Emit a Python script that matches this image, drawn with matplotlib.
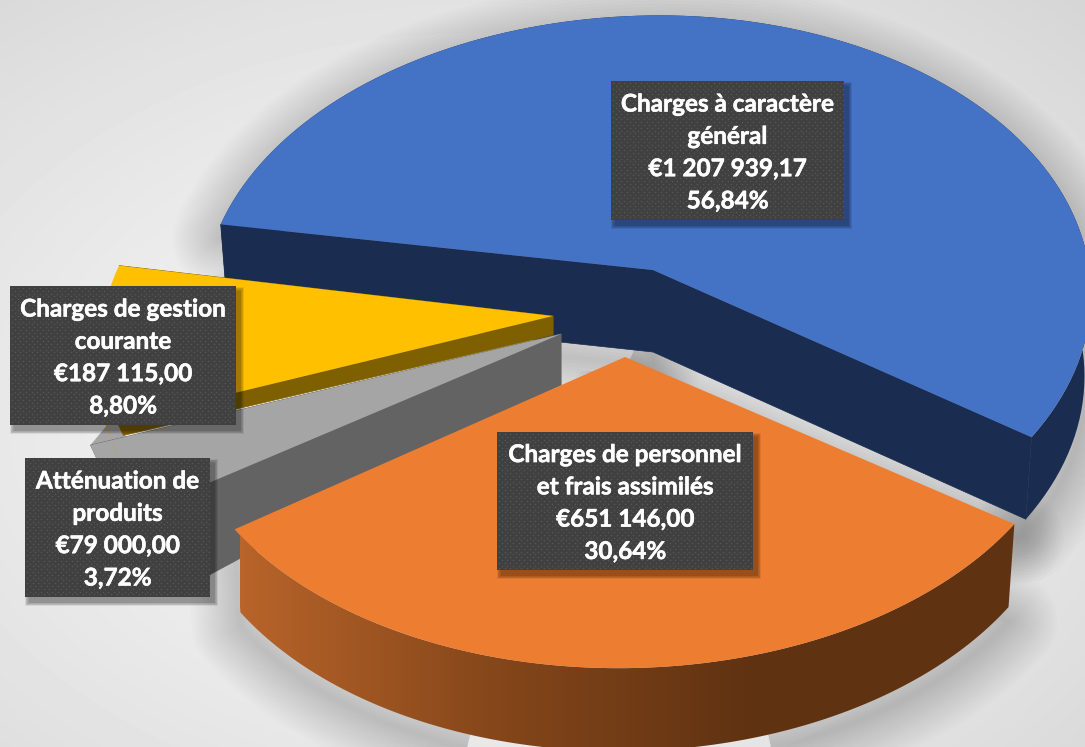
import numpy as np
import matplotlib
matplotlib.use("Agg")
import matplotlib.pyplot as plt
import matplotlib.patheffects as pe
from matplotlib.colors import LinearSegmentedColormap
from matplotlib.patches import Polygon, Rectangle

# valeurs du graphique
categories = ["Charges à caractère\ngénéral", "Charges de personnel\net frais assimilés",
              "Atténuation de\nproduits", "Charges de gestion\ncourante"]
valeurs = [1207939.17, 651146.00, 79000.00, 187115.00]
valeurs_txt = ["€1 207 939,17", "€651 146,00", "€79 000,00", "€187 115,00"]
pourcent_txt = ["56,84%", "30,64%", "3,72%", "8,80%"]

# style de chaque part
couleurs = ["#4472c4", "#ed7d31", "#a5a5a5", "#ffc000"]
cote = ["#1a2d50", "#5f3212", "#636363", "#7f6000"]
bord = ["#1a2d50", "#b8642a", "#a5a5a5", "#d4a400"]
tips = [(653, 270), (625, 357), (561, 334), (553, 316)]
rayons = [1.0, 1.0, 1.08, 1.005]
tilts = [0.9, 0.9, 0.0, 0.3]
serre = [0.972, 1.0, 1.0, 1.0]  # squeeze on the right of the tip
retrait = [0.985, 0.985, 0.90, 0.985]
prof_tip = [82, 83, 51, 19]
prof_rim = [82, 83, 78, 34]
prof_coupe = [82, 83, 78, 14]
boites = [(611, 81, 844, 220), (497, 432, 753, 570), (25, 458, 210, 597), (10, 286, 236, 425)]

A, B, K = 448, 280, 0.10
START = 169.0

fig = plt.figure(figsize=(10.85, 7.47), dpi=100)
ax = fig.add_axes([0, 0, 1, 1])
ax.set_xlim(0, 1085)
ax.set_ylim(747, 0)
ax.axis("off")

# fond degrade
yy, xx = np.mgrid[0:747, 0:1085]
r = np.hypot((xx - 480) / 1085, (yy - 420) / 747)
fond = np.clip(0.93 - 0.22 * np.clip(r - 0.3, 0, None) ** 1.2, 0, 1)
ax.imshow(fond, cmap="gray", vmin=0, vmax=1, extent=(0, 1085, 747, 0), aspect="auto", zorder=0)


def point(i, ang, mult=1.0):
    rad = rayons[i] * mult
    u = rad * np.cos(np.radians(ang))
    v = rad * np.sin(np.radians(ang))
    s = 1 / (1 + K * v)
    dx, dy = A * u * s, -B * v * s
    if dx > 0:
        dx *= serre[i]
    t = np.radians(tilts[i])
    return tips[i][0] + dx * np.cos(t) + dy * np.sin(t), tips[i][1] - dx * np.sin(t) + dy * np.cos(t)


def bas(i, pts, depth):
    res = pts.copy()
    res[:, 0] = tips[i][0] + (pts[:, 0] - tips[i][0]) * retrait[i]
    res[:, 1] = pts[:, 1] + depth
    return res


def ombre(poly, z):
    poly = poly + np.array([0, 14])
    for lw in np.linspace(70, 4, 15):
        ax.add_patch(Polygon(poly, closed=True, fc="none", ec="black", lw=lw, alpha=0.013,
                             joinstyle="round", zorder=z))


angles = 360 * np.array(valeurs) / sum(valeurs)
bornes = START - np.concatenate([[0], np.cumsum(angles)])

# ordre de dessin : bleu, gris, jaune, orange
ordre = [0, 2, 3, 1]
for n, i in enumerate(ordre):
    a1, a2 = bornes[i], bornes[i + 1]
    tip = tips[i]
    z = 2 + n * 2
    top = np.array([point(i, a) for a in np.linspace(a1, a2, 120)])
    low = bas(i, top, prof_rim[i])
    tip_bas = (tip[0], tip[1] + prof_tip[i])

    if i in (0, 1):
        ombre(np.vstack([[tip], top, low[::-1], [tip_bas]]), 1)

    # face exterieure
    if i == 1:
        # degrade sur le flanc orange
        rim = np.vstack([top, low[::-1]])
        grad = np.linspace(0, 1, 256).reshape(1, -1)
        cm = LinearSegmentedColormap.from_list("flanc", [bord[i], "#84461a", cote[i], cote[i]], N=256)
        im = ax.imshow(grad, cmap=cm, extent=(240, 1015, 747, 500), aspect="auto", zorder=z)
        p = Polygon(rim, closed=True, transform=ax.transData, fc="none", ec="none")
        ax.add_patch(p)
        im.set_clip_path(p)
    elif i == 0:
        ax.add_patch(Polygon(np.vstack([top, low[::-1]]), closed=True, fc=bord[i], ec="none", zorder=z))
    elif i == 2:
        # bord gris qui depasse derriere le jaune
        haut = top + np.array([25, -30])
        ax.add_patch(Polygon(np.vstack([top, haut[::-1]]), closed=True, fc=bord[i], ec="none", zorder=z))
        ax.add_patch(Polygon(np.vstack([top, low[::-1]]), closed=True, fc=cote[i], ec="none", zorder=z))
    else:
        # bandeau dore sous le coin du jaune
        ext = np.array([point(i, a, 1.025) for a in np.linspace(a1, a1 - 10, 20)])
        ext_bas = bas(i, ext, prof_rim[i]) + np.array([6, 0])
        ax.add_patch(Polygon(np.vstack([ext, ext_bas[::-1]]), closed=True, fc=bord[i], ec="none", zorder=z))

    # faces de coupe
    if i != 1:
        coupe = bas(i, top, prof_coupe[i])
        for j in (0, -1):
            face = [tip, top[j], coupe[j], tip_bas]
            ax.add_patch(Polygon(face, closed=True, fc=cote[i], ec=cote[i], lw=0.5, zorder=z))

    ax.add_patch(Polygon(np.vstack([[tip], top]), closed=True, fc=couleurs[i], ec="none", zorder=z + 1))

# etiquettes
for i, (x0, y0, x1, y1) in enumerate(boites):
    for d in np.linspace(8, 1, 6):
        ax.add_patch(Rectangle((x0 + 4 - d / 2, y0 + 5 - d / 2), x1 - x0 + d, y1 - y0 + d,
                               fc="black", ec="none", alpha=0.07, zorder=20))
    ax.add_patch(Rectangle((x0, y0), x1 - x0, y1 - y0, fc="#404040", ec="none", zorder=21))
    xs, ys = [], []
    for k, yd in enumerate(np.arange(y0 + 2, y1, 5.6 / 2)):
        dec = 0 if k % 2 == 0 else 2.8
        for xd in np.arange(x0 + 2 + dec, x1, 5.6):
            xs.append(xd)
            ys.append(yd)
    ax.scatter(xs, ys, s=1.2, c="#565656", linewidths=0, zorder=22)
    txt = categories[i] + "\n" + valeurs_txt[i] + "\n" + pourcent_txt[i]
    t = ax.text((x0 + x1) / 2, (y0 + y1) / 2 + 2, txt, color="white", fontsize=17.5, family="Lato",
                fontweight="bold", ha="center", va="center", linespacing=1.49, zorder=23)
    t.set_path_effects([pe.withStroke(linewidth=0.4, foreground="white")])

fig.savefig("out.png", dpi=100)
